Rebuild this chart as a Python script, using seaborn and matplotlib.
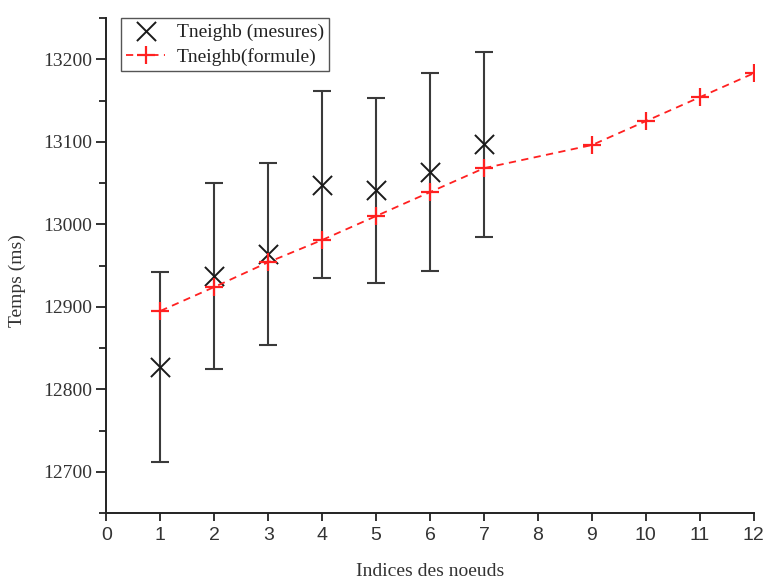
import numpy as np
import pandas as pd
import matplotlib
matplotlib.use("Agg")
import matplotlib.pyplot as plt
import seaborn as sns
from matplotlib.ticker import MultipleLocator

# measured values (x markers with error bars)
idx_mes = [1, 2, 3, 4, 5, 6, 7]
t_mes = [12827, 12937, 12964, 13048, 13041, 13063, 13097]
err_mes = [115, 113, 110, 113, 112, 120, 112]

# formula values (red dashed line, no point at 8)
idx_form = [1, 2, 3, 4, 5, 6, 7, 9, 10, 11, 12]
t_form = [12895, 12924, 12954, 12981, 13010, 13039, 13068, 13096, 13125, 13154, 13183]

x_ticks = list(range(0, 13))
y_ticks = [12700, 12800, 12900, 13000, 13100, 13200]

sns.set_style("ticks")
plt.rcParams['font.family'] = ['Liberation Serif', 'DejaVu Serif']

df_mes = pd.DataFrame({'idx': idx_mes, 't': t_mes, 'err': err_mes})
df_form = pd.DataFrame({'idx': idx_form, 't': t_form})

fig = plt.figure(figsize=(7.66, 5.81), dpi=100)
ax = fig.add_axes([0.139, 0.117, 0.845, 0.852])

# error bars
ax.errorbar(df_mes['idx'], df_mes['t'], yerr=df_mes['err'], fmt='none',
            ecolor='#3a3a3a', elinewidth=1.5, capsize=6.5, capthick=1.5, zorder=2)

# measured points
sns.scatterplot(data=df_mes, x='idx', y='t', marker='x', s=190, color='#1a1a1a',
                linewidth=1.4, ax=ax, zorder=3, label='Tneighb (mesures)')

# formula line
red = '#ff2020'
sns.lineplot(data=df_form, x='idx', y='t', color=red, marker='+',
             markersize=13, markeredgewidth=1.6, markeredgecolor=red,
             markerfacecolor=red, linewidth=1.3,
             dashes=False, ax=ax, zorder=4, label='Tneighb(formule)')
ax.lines[-1].set_dashes((4, 3))

ax.set_xlim(0, 12)
ax.set_ylim(12650, 13250)
ax.set_xticks(x_ticks)
ax.set_yticks(y_ticks)
ax.yaxis.set_minor_locator(MultipleLocator(50))

for sp in ['top', 'right']:
    ax.spines[sp].set_visible(False)
for sp in ['left', 'bottom']:
    ax.spines[sp].set_linewidth(1.4)
    ax.spines[sp].set_color('#222222')

ax.tick_params(axis='y', which='major', length=7, width=1.3, labelsize=14,
               color='#222222', labelcolor='#333333', pad=3)
ax.tick_params(axis='y', which='minor', length=5, width=1.3, color='#222222')
ax.tick_params(axis='x', which='major', length=6, width=1.3, labelsize=14,
               color='#222222', labelcolor='#333333', pad=4)
for lab in ax.get_xticklabels():
    lab.set_fontfamily('Liberation Sans')

ax.set_xlabel('Indices des noeuds', fontsize=14, color='#333333', labelpad=14)
ax.set_ylabel('Temps (ms)', fontsize=14, color='#333333')
ax.yaxis.set_label_coords(-0.124, 0.47)

leg = ax.legend(loc='upper left', bbox_to_anchor=(0.023, 1.0), borderaxespad=0,
                fontsize=14, frameon=True, fancybox=False, framealpha=1,
                edgecolor='#555555', handlelength=2.0, handletextpad=0.6,
                labelspacing=0.38, borderpad=0.25)
leg.get_frame().set_linewidth(1.0)
for t in leg.get_texts():
    t.set_color('#222222')

fig.savefig('out.png', dpi=100)
